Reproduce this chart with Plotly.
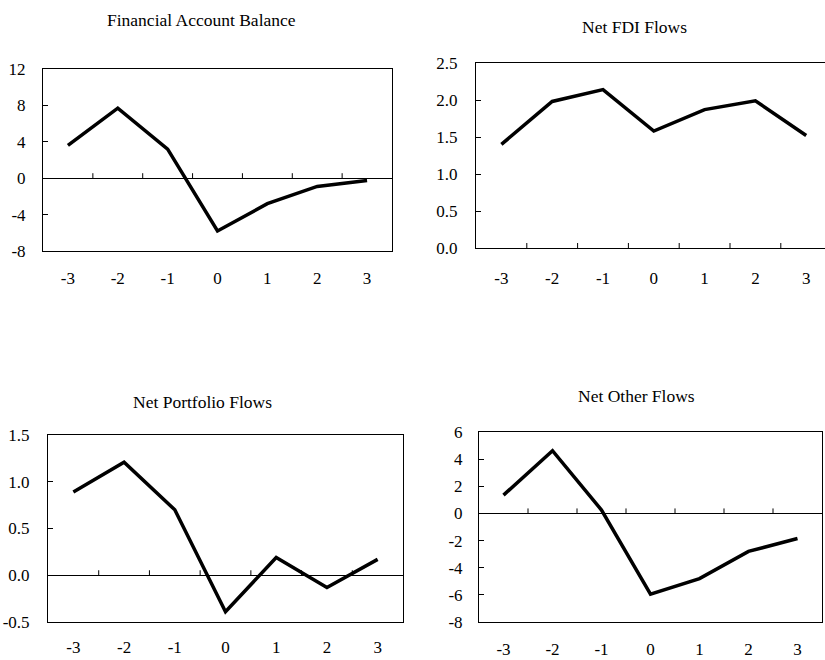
import plotly.graph_objects as go

periods = [-3, -2, -1, 0, 1, 2, 3]
period_labels = ["-3", "-2", "-1", "0", "1", "2", "3"]

financial_account = [3.6, 7.7, 3.2, -5.8, -2.8, -0.9, -0.25]
net_fdi = [1.40, 1.98, 2.14, 1.58, 1.87, 1.99, 1.52]
net_portfolio = [0.89, 1.21, 0.70, -0.39, 0.19, -0.13, 0.17]
net_other = [1.35, 4.62, 0.25, -5.95, -4.8, -2.8, -1.85]

titles = ["Financial Account Balance", "Net FDI Flows", "Net Portfolio Flows", "Net Other Flows"]

fa_ticks = [-8, -4, 0, 4, 8, 12]
fdi_ticks = [0.0, 0.5, 1.0, 1.5, 2.0, 2.5]
pf_ticks = [-0.5, 0.0, 0.5, 1.0, 1.5]
oth_ticks = [-8, -6, -4, -2, 0, 2, 4, 6]

W, H = 825, 660
FONT = "Liberation Serif, Times New Roman, serif"
TICK_SIZE = 17
TITLE_SIZE = 17.5

panels = [
    dict(data=financial_account, yr=[-8, 12], tv=fa_ticks, tt=[str(v) for v in fa_ticks],
         xd=(43, 392), yd=(69, 251), xr=[-3.5, 3.5], mirror=True, tpos=(201, 20), stand=12, ystand=13),
    dict(data=net_fdi, yr=[0, 2.5], tv=fdi_ticks, tt=[f"{v:.1f}" for v in fdi_ticks],
         xd=(476, 825), yd=(63, 248), xr=[-3.5, 3.37], mirror=False, tpos=(634, 27), stand=15, ystand=14),
    dict(data=net_portfolio, yr=[-0.5, 1.5], tv=pf_ticks, tt=[f"{v:.1f}" for v in pf_ticks],
         xd=(48, 403), yd=(435, 622), xr=[-3.5, 3.5], mirror=True, tpos=(202, 402), stand=10, ystand=14),
    dict(data=net_other, yr=[-8, 6], tv=oth_ticks, tt=[str(v) for v in oth_ticks],
         xd=(479, 822), yd=(432, 622), xr=[-3.5, 3.5], mirror=True, tpos=(636, 396), stand=12, ystand=12),
]

fig = go.Figure()
layout = dict(
    template="none",
    width=W, height=H,
    margin=dict(l=0, r=0, t=0, b=0, pad=0, autoexpand=False),
    paper_bgcolor="white", plot_bgcolor="white",
    showlegend=False,
    font=dict(family=FONT, size=TICK_SIZE, color="black"),
)
shapes = []
annotations = []

for i, p in enumerate(panels):
    n = "" if i == 0 else str(i + 1)
    xa, ya = "x" + n, "y" + n
    fig.add_trace(go.Scatter(
        x=periods, y=p["data"], mode="lines",
        line=dict(color="black", width=3.5),
        xaxis=xa, yaxis=ya, hoverinfo="skip",
    ))
    layout["xaxis" + n] = dict(
        domain=[p["xd"][0] / W, p["xd"][1] / W],
        range=p["xr"], tickvals=periods, ticktext=period_labels,
        ticks="", showline=True, mirror=True, linecolor="black", linewidth=1,
        showgrid=False, zeroline=False, anchor=ya, ticklabelstandoff=p["stand"],
        automargin=False,
        tickfont=dict(family=FONT, size=TICK_SIZE, color="black"), fixedrange=True,
    )
    layout["yaxis" + n] = dict(
        domain=[1 - p["yd"][1] / H, 1 - p["yd"][0] / H],
        range=p["yr"], tickvals=p["tv"], ticktext=p["tt"],
        ticks="inside", ticklen=5, tickcolor="black", tickwidth=1,
        showline=True, mirror=p["mirror"], linecolor="black", linewidth=1,
        showgrid=False, zeroline=True, zerolinecolor="black", zerolinewidth=1,
        anchor=xa, ticklabelstandoff=p["ystand"], automargin=False,
        tickfont=dict(family=FONT, size=TICK_SIZE, color="black"), fixedrange=True,
    )
    for k in periods[:-1]:
        xb = k + 0.5
        if xb > p["xr"][1]:
            continue
        shapes.append(dict(
            type="line", xref=xa, yref=ya, x0=xb, x1=xb,
            ysizemode="pixel", yanchor=0, y0=0, y1=5,
            line=dict(color="black", width=1),
        ))
    annotations.append(dict(
        text=titles[i], xref="paper", yref="paper",
        x=p["tpos"][0] / W, y=1 - p["tpos"][1] / H,
        xanchor="center", yanchor="middle", showarrow=False,
        font=dict(family=FONT, size=TITLE_SIZE, color="black"),
    ))

layout["shapes"] = shapes
layout["annotations"] = annotations
fig.update_layout(**layout)
fig.write_html(
    "out.html",
    config={"displayModeBar": False},
    post_script="document.body.style.margin='0';document.body.style.padding='0';",
)
